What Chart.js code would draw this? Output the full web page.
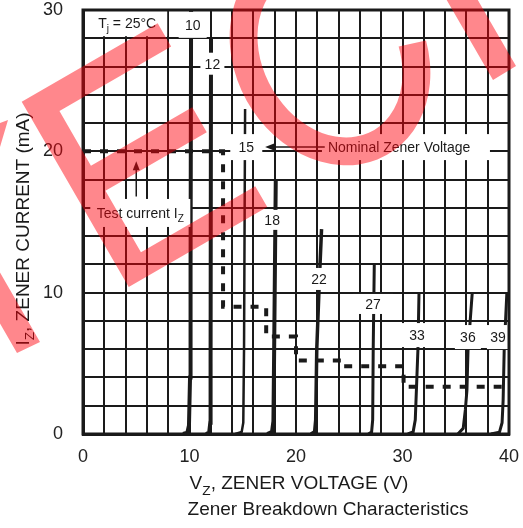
<!DOCTYPE html>
<html>
<head>
<meta charset="utf-8">
<script src="https://cdn.jsdelivr.net/npm/chart.js@4.4.1/dist/chart.umd.min.js"></script>
<style>
  html, body { margin: 0; padding: 0; background: #fff; }
  canvas { display: block; }
</style>
</head>
<body>
<canvas id="zenerChart" width="523" height="528"></canvas>
<script>
// Curve data: [Vz (V), Iz (mA)]
const curve10 = [[9.4, 0], [9.8, 0.1], [9.95, 0.6], [10.05, 4], [10.1, 12], [10.15, 30]];
const curve12 = [[11.55, 0], [11.85, 0.1], [11.95, 0.8], [11.98, 5], [12.02, 28]];
const curve15 = [[14.3, 0], [14.9, 0.15], [15.05, 0.8], [15.12, 6], [15.22, 23]];
const curve18 = [[17.3, 0], [17.75, 0.15], [17.88, 0.9], [17.95, 6], [18.1, 18]];
const curve22 = [[21.4, 0], [21.75, 0.15], [21.85, 1], [21.95, 6], [22.2, 11], [22.4, 14.5]];
const curve27 = [[26.8, 0], [27.1, 0.15], [27.2, 1], [27.25, 6], [27.35, 12]];
const curve33 = [[30.5, 0], [31.0, 0.15], [31.2, 1], [31.35, 4], [31.45, 6], [31.55, 10]];
const curve36 = [[35.2, 0], [35.7, 0.4], [35.9, 1.7], [36.05, 3.1], [36.15, 5.9], [36.55, 10]];
const curve39 = [[38.3, 0], [39.1, 0.12], [39.35, 0.8], [39.45, 2.4], [39.55, 6], [39.8, 10]];

// test current staircase (dashed)
const testCurrent = [[0, 20], [13.15, 20], [13.15, 9], [17.2, 9], [17.2, 6.9], [20.0, 6.9], [20.0, 5.2],
                     [24.4, 5.2], [24.4, 4.8], [30.1, 4.8], [30.1, 3.35], [40, 3.35]];

// curve labels (text, V, mA)
const curveLabels = ['10', '12', '15', '18', '22', '27', '33', '36', '39'];
const labelV = [10.3, 12.15, 15.33, 17.76, 22.17, 27.23, 31.36, 36.14, 38.96];
const labelI = [28.95, 26.2, 20.3, 15.15, 10.97, 9.2, 7.0, 6.86, 6.86];

const xTickLabels = [0, 10, 20, 30, 40];
const yTickLabels = [0, 10, 20, 30];

const FONT = "'Liberation Sans', Arial, sans-serif";
const INK = '#1a1a1a';

const curves = [curve10, curve12, curve15, curve18, curve22, curve27, curve33, curve36, curve39];
const curveWidths = [4, 4, 2.5, 4, 3.5, 3, 3, 3, 3];
// white box behind each curve label, px
const labelBox = [[28, 26], [24, 22], [32, 26], [24, 20], [30, 22], [40, 20], [40, 24], [26, 24], [22, 24]];

// split "I_Z" style strings into normal / subscript runs
function richParts(s) {
    const parts = [];
    let buf = '';
    for (let i = 0; i < s.length; i++) {
        if (s[i] === '_') {
            if (buf) parts.push({ t: buf, sub: false });
            buf = '';
            parts.push({ t: s[i + 1], sub: true });
            i++;
        } else buf += s[i];
    }
    if (buf) parts.push({ t: buf, sub: false });
    return parts;
}

function drawRich(ctx, s, x, y, size, align) {
    const parts = richParts(s);
    const subSize = size * 0.72;
    let total = 0;
    parts.forEach(p => {
        ctx.font = (p.sub ? subSize : size) + 'px ' + FONT;
        p.w = ctx.measureText(p.t).width;
        total += p.w;
    });
    let cx = align === 'center' ? x - total / 2 : (align === 'right' ? x - total : x);
    ctx.textAlign = 'left';
    ctx.textBaseline = 'alphabetic';
    parts.forEach(p => {
        ctx.font = (p.sub ? subSize : size) + 'px ' + FONT;
        ctx.fillText(p.t, cx, p.sub ? y + size * 0.3 : y);
        cx += p.w;
    });
}

function whiteBox(ctx, cx, cy, w, h) {
    ctx.fillStyle = '#fff';
    ctx.fillRect(cx - w / 2, cy - h / 2, w, h);
}

function arrow(ctx, x1, y1, x2, y2) {
    // line from (x1,y1) to tip (x2,y2)
    const ang = Math.atan2(y2 - y1, x2 - x1);
    const len = 9, half = 3.5;
    ctx.strokeStyle = INK;
    ctx.fillStyle = INK;
    ctx.lineWidth = 1.5;
    ctx.beginPath();
    ctx.moveTo(x1, y1);
    ctx.lineTo(x2 - Math.cos(ang) * len * 0.8, y2 - Math.sin(ang) * len * 0.8);
    ctx.stroke();
    ctx.beginPath();
    ctx.moveTo(x2, y2);
    ctx.lineTo(x2 - Math.cos(ang) * len - Math.sin(ang) * half, y2 - Math.sin(ang) * len + Math.cos(ang) * half);
    ctx.lineTo(x2 - Math.cos(ang) * len + Math.sin(ang) * half, y2 - Math.sin(ang) * len - Math.cos(ang) * half);
    ctx.closePath();
    ctx.fill();
}

// annotations, titles, frame and the red stamp on top
const annotations = {
    id: 'annotations',
    afterDatasetsDraw(chart) {
        const ctx = chart.ctx;
        const xs = chart.scales.x, ys = chart.scales.y;
        const area = chart.chartArea;
        ctx.save();

        // curve labels
        curveLabels.forEach((t, i) => {
            const px = xs.getPixelForValue(labelV[i]);
            const py = ys.getPixelForValue(labelI[i]);
            whiteBox(ctx, px, py, labelBox[i][0], labelBox[i][1]);
            ctx.fillStyle = INK;
            drawRich(ctx, t, px, py + 5, 14, 'center');
        });

        // Tj note
        let px = xs.getPixelForValue(4.15), py = ys.getPixelForValue(29.1);
        whiteBox(ctx, px, py, 80, 27);
        ctx.fillStyle = INK;
        drawRich(ctx, 'T_j = 25°C', px, py + 5, 14, 'center');

        // test current note + arrow
        px = xs.getPixelForValue(5.38); py = ys.getPixelForValue(15.64);
        whiteBox(ctx, px, py, 100, 28);
        ctx.fillStyle = INK;
        drawRich(ctx, 'Test current I_Z', px, py + 5, 14, 'center');
        arrow(ctx, xs.getPixelForValue(5.0), ys.getPixelForValue(16.8),
                   xs.getPixelForValue(5.0), ys.getPixelForValue(19.3));

        // nominal zener voltage note + arrow
        px = xs.getPixelForValue(23.0); py = ys.getPixelForValue(20.3);
        ctx.fillStyle = '#fff';
        ctx.fillRect(px - 6, py - 13, 168, 26);
        ctx.fillStyle = INK;
        drawRich(ctx, 'Nominal Zener Voltage', px, py + 5, 14, 'left');
        arrow(ctx, xs.getPixelForValue(22.7), py, xs.getPixelForValue(17.1), py);

        // plot frame
        ctx.strokeStyle = INK;
        ctx.lineWidth = 3;
        ctx.strokeRect(area.left, area.top, area.right - area.left, area.bottom - area.top);

        ctx.restore();
    },
    afterDraw(chart) {
        const ctx = chart.ctx;
        ctx.save();
        ctx.fillStyle = INK;
        drawRich(ctx, 'V_Z, ZENER VOLTAGE (V)', 299, 489, 19, 'center');
        drawRich(ctx, 'Zener Breakdown Characteristics', 328, 515, 19, 'center');
        ctx.translate(28.5, 229);
        ctx.rotate(-Math.PI / 2);
        drawRich(ctx, 'I_Z, ZENER CURRENT (mA)', 0, 0, 19, 'center');
        ctx.restore();

        // red stamp over the whole picture
        ctx.save();
        ctx.fillStyle = 'rgba(255, 0, 10, 0.47)';
        ctx.beginPath();
        // left stroke
        ctx.moveTo(40, 342); ctx.lineTo(17, 353); ctx.lineTo(-33, 266); ctx.lineTo(-10, 255); ctx.closePath();
        ctx.moveTo(0, 123); ctx.lineTo(8, 120); ctx.lineTo(0, 147); ctx.closePath();
        // right stroke
        ctx.moveTo(493, 80); ctx.lineTo(516, 66); ctx.lineTo(461, -29); ctx.lineTo(438, -15); ctx.closePath();
        ctx.fill();

        // E, tilted 30 deg
        ctx.save();
        ctx.translate(21.7, 101.7);
        ctx.rotate(-Math.PI / 6);
        const e = [[0, 0], [157, 0], [157, 27], [28, 27], [28, 90], [145, 90], [145, 119], [28, 119],
                   [28, 190], [160, 190], [160, 214], [0, 214]];
        ctx.beginPath();
        e.forEach(([u, v], i) => i ? ctx.lineTo(u, v) : ctx.moveTo(u, v));
        ctx.closePath();
        ctx.fill();
        ctx.restore();

        // C ring
        const a0 = 18 * Math.PI / 180, a1 = 342 * Math.PI / 180;
        ctx.beginPath();
        ctx.ellipse(330, 55, 95, 115, -Math.PI / 6, a0, a1, false);
        ctx.ellipse(330, 55, 67, 87, -Math.PI / 6, a1, a0, true);
        ctx.closePath();
        ctx.fill();
        ctx.restore();
    }
};

const datasets = curves.map((c, i) => ({
    data: c.map(([x, y]) => ({ x, y })),
    borderColor: INK,
    borderWidth: curveWidths[i],
    pointRadius: 0,
    tension: 0,
    fill: false
}));
datasets.push({
    data: testCurrent.map(([x, y]) => ({ x, y })),
    borderColor: INK,
    borderWidth: 4,
    borderDash: [8, 9],
    borderCapStyle: 'butt',
    pointRadius: 0,
    tension: 0,
    fill: false
});

const tickFont = { family: FONT, size: 18 };

// keep tick labels from pushing the plot area in
function noPad(s) {
    s.paddingTop = 0; s.paddingBottom = 0; s.paddingLeft = 0; s.paddingRight = 0;
}

new Chart(document.getElementById('zenerChart').getContext('2d'), {
    type: 'line',
    data: { datasets: datasets },
    options: {
        responsive: false,
        animation: false,
        layout: { padding: { top: 10, right: 14, left: 0, bottom: 0 } },
        plugins: { legend: { display: false }, tooltip: { enabled: false } },
        scales: {
            x: {
                type: 'linear', min: 0, max: 40,
                ticks: {
                    stepSize: 2, autoSkip: false, maxRotation: 0, padding: 12,
                    color: '#222', font: tickFont,
                    callback: v => xTickLabels.includes(v) ? String(v) : ''
                },
                grid: { color: INK, lineWidth: 2, drawTicks: false },
                border: { color: INK, width: 3 },
                afterFit: s => { s.height = 94; noPad(s); }
            },
            y: {
                min: 0, max: 30,
                ticks: {
                    stepSize: 2, autoSkip: false, padding: 20,
                    color: '#222', font: tickFont,
                    callback: v => yTickLabels.includes(v) ? String(v) : ''
                },
                grid: { color: INK, lineWidth: 2, drawTicks: false },
                border: { color: INK, width: 3 },
                afterFit: s => { s.width = 83; noPad(s); }
            }
        }
    },
    plugins: [annotations]
});
</script>
</body>
</html>
